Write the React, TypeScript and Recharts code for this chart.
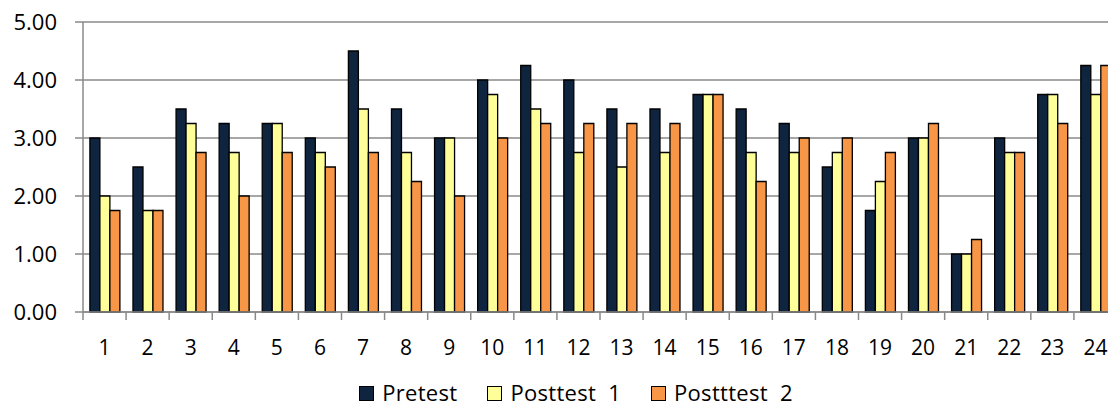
import React from 'react';
import { BarChart, Bar, XAxis, YAxis, CartesianGrid, Legend } from 'recharts';

const categories = ['1', '2', '3', '4', '5', '6', '7', '8', '9', '10', '11', '12', '13', '14', '15', '16', '17', '18', '19', '20', '21', '22', '23', '24'];
const pretest = [3, 2.5, 3.5, 3.25, 3.25, 3, 4.5, 3.5, 3, 4, 4.25, 4, 3.5, 3.5, 3.75, 3.5, 3.25, 2.5, 1.75, 3, 1, 3, 3.75, 4.25];
const posttest1 = [2, 1.75, 3.25, 2.75, 3.25, 2.75, 3.5, 2.75, 3, 3.75, 3.5, 2.75, 2.5, 2.75, 3.75, 2.75, 2.75, 2.75, 2.25, 3, 1, 2.75, 3.75, 3.75];
const posttest2 = [1.75, 1.75, 2.75, 2, 2.75, 2.5, 2.75, 2.25, 2, 3, 3.25, 3.25, 3.25, 3.25, 3.75, 2.25, 3, 3, 2.75, 3.25, 1.25, 2.75, 3.25, 4.25];
const yTicks = [0, 1, 2, 3, 4, 5];

const series = [
    { key: 'pretest', name: 'Pretest', color: '#0F243E' },
    { key: 'posttest1', name: 'Posttest  1', color: '#FFFF99' },
    { key: 'posttest2', name: 'Postttest  2', color: '#F79646' },
];

const data = categories.map((c, i) => ({
    name: c,
    pretest: pretest[i],
    posttest1: posttest1[i],
    posttest2: posttest2[i],
}));

const CHART_W = 1127;
const CHART_H = 406;
const MARGIN = { top: 22, right: 10, bottom: 3, left: 0 };
const Y_W = 83;
const BAND = (CHART_W - MARGIN.left - MARGIN.right - Y_W) / categories.length;
const FONT = '"Open Sans", sans-serif';
const GRID = '#8a8a8a';

const XTick = (props: any) => {
    const { x, y, payload } = props;
    const left = x - BAND / 2;
    return (
        <g>
            <line x1={left} x2={left} y1={y - 8} y2={y} stroke={GRID} strokeWidth={1.5} />
            <text x={x} y={y + 35} textAnchor="middle" fontFamily={FONT} fontSize={21} fill="#000">
                {payload.value}
            </text>
        </g>
    );
};

const LegendBox = () => (
    <div style={{ display: 'flex', justifyContent: 'center', alignItems: 'center', height: 22, fontFamily: FONT, fontSize: 22, letterSpacing: 0.3, color: '#000' }}>
        {series.map((s, i) => (
            <div key={s.key} style={{ display: 'flex', alignItems: 'center', marginRight: i < series.length - 1 ? 30 : 0 }}>
                <span style={{ width: 15, height: 15, background: s.color, border: '1.3px solid #000', boxSizing: 'border-box', marginRight: 8, marginTop: 2 }} />
                <span style={{ whiteSpace: 'pre', lineHeight: '22px' }}>{s.name}</span>
            </div>
        ))}
    </div>
);

const App: React.FC = () => {
    return (
        <div style={{ position: 'absolute', left: 0, top: 0, width: 1108, height: 406, overflow: 'hidden', background: '#fff' }}>
            <BarChart width={CHART_W} height={CHART_H} data={data} margin={MARGIN} barCategoryGap="16%" barGap={0}>
                <CartesianGrid vertical={false} stroke={GRID} strokeWidth={1.5} />
                <XAxis
                    dataKey="name"
                    interval={0}
                    height={69}
                    axisLine={{ stroke: GRID, strokeWidth: 1.5 }}
                    tickLine={{ stroke: 'none' }}
                    tickSize={8}
                    tickMargin={0}
                    tick={<XTick />}
                />
                <YAxis
                    width={Y_W}
                    domain={[0, 5]}
                    ticks={yTicks}
                    interval={0}
                    tickFormatter={(v: number) => v.toFixed(2)}
                    axisLine={{ stroke: GRID, strokeWidth: 1.5 }}
                    tickLine={{ stroke: GRID, strokeWidth: 1.5 }}
                    tickSize={8}
                    tickMargin={18}
                    tick={{ fontFamily: FONT, fontSize: 22, fill: '#000' }}
                />
                <Legend
                    verticalAlign="bottom"
                    content={<LegendBox />}
                    wrapperStyle={{ left: 0, width: 1152, height: 22 }}
                />
                {series.map((s) => (
                    <Bar key={s.key} dataKey={s.key} name={s.name} fill={s.color} stroke="#000" strokeWidth={1.3} isAnimationActive={false} />
                ))}
            </BarChart>
        </div>
    );
};

export default App;
